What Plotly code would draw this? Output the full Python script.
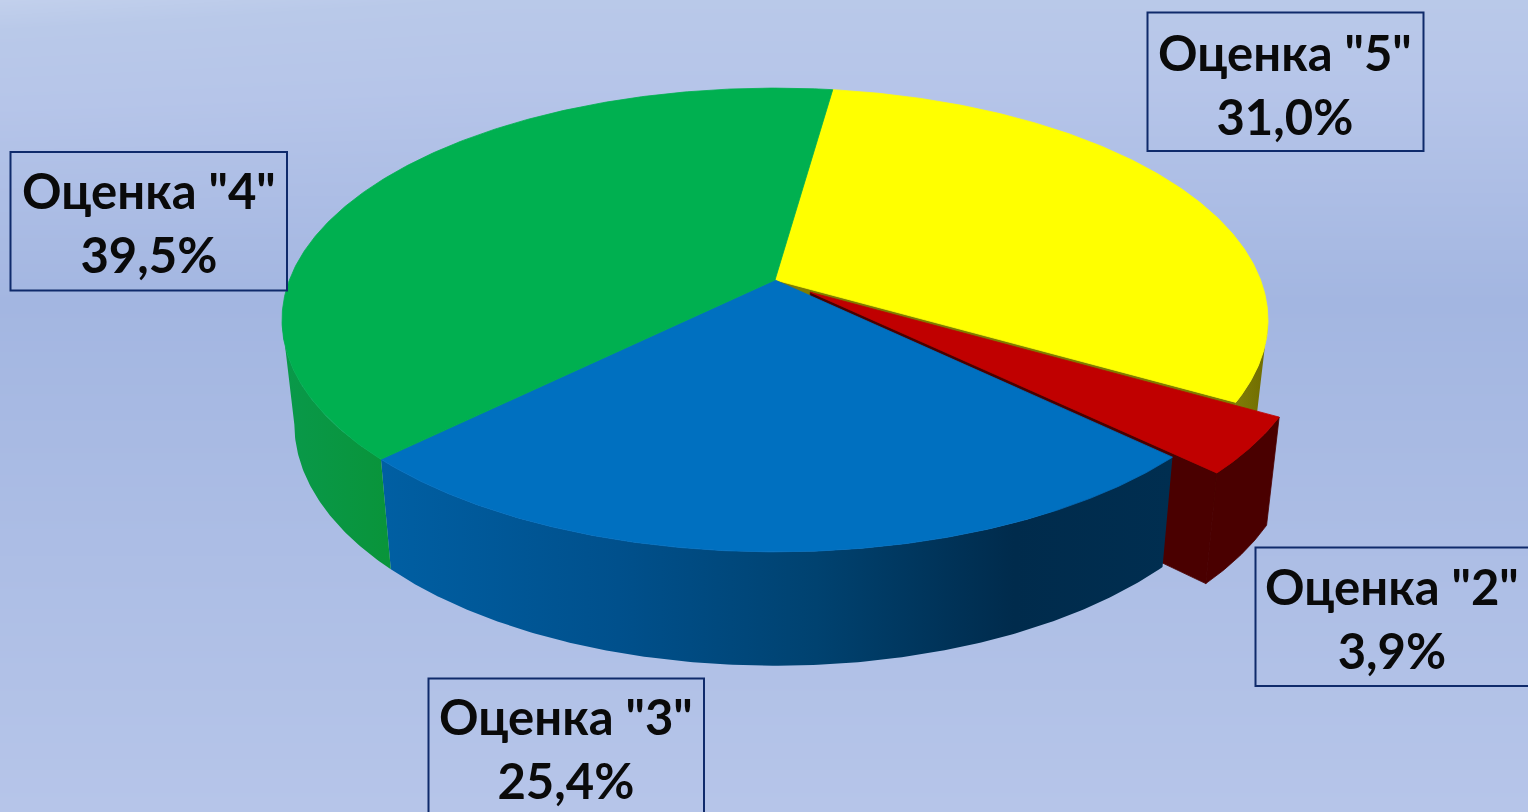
import numpy as np
import plotly.graph_objects as go

# --- data ---
categories = ['Оценка "5"', 'Оценка "2"', 'Оценка "3"', 'Оценка "4"']
values = [31.0, 3.9, 25.4, 39.5]
top_colors = ["#FFFF00", "#C00000", "#0070C0", "#00B050"]
explode = [0, 0.09, 0, 0]
label_centers = [(1285, 84), (1392, 618), (566, 748), (149, 222)]
label_boxes = [(1147.5, 12.5, 1423.5, 151), (1255.5, 547.5, 1545, 686), (428.5, 678.5, 704, 830), (10.5, 152, 287, 290.5)]
wall_colors = [
    [[0, "#85820a"], [1, "#6f6c00"]],
    "#4a0000",
    [[0, "#005fa3"], [0.3, "#00508c"], [0.55, "#004270"], [0.8, "#002b4c"], [1, "#002e50"]],
    [[0, "#09994a"], [1, "#09943a"]],
]
cut_colors = ["#7f7d00", "#4a0000", None, None]
# angular span of the visible outer wall of each slice
wall_spans = [(100, None), (None, None), (None, None), (None, 260)]

# --- projection of the pie plane to the canvas ---
CX, CY, A, B, K = 775.0, 280.0, 485.6, 225.0, 0.1724
START_DEG = 8.0


def project(u, v):
    d = 1 + K * v
    return CX + A * u / d, CY - B * v / d


def lower(x, y):
    return CX + 0.975 * (x - CX), y + 102.5 + 0.042 * (y - CY)


def arc(a1, a2, ox=0.0, oy=0.0):
    t = np.radians(np.linspace(a1, a2, max(int(abs(a2 - a1) * 2), 2)))
    return project(np.sin(t) + ox, np.cos(t) + oy)


def poly(x, y, seam=None, **kw):
    line = dict(width=0.8, color=seam) if seam else dict(width=0)
    return go.Scatter(x=np.round(x, 2).tolist(), y=np.round(y, 2).tolist(), mode="lines", fill="toself",
                      line=line, hoverinfo="skip", showlegend=False, **kw)


# --- background ---
bg_y = np.linspace(0, 812, 60)
bg_x = np.linspace(0, 1528, 40)
vert = np.interp(bg_y, [0, 300, 812], [1.0, 0.0, 0.72])
horiz = np.interp(bg_x, [0, 500, 1528], [0.12, 0.0, 0.0])
bg_z = np.array([[v + h * max(0, 1 - y / 250) for h in horiz] for v, y in zip(vert, bg_y)])
bg = go.Heatmap(x=bg_x, y=bg_y, z=bg_z, zmin=0, zmax=1.12, zsmooth="best", showscale=False, hoverinfo="skip",
                colorscale=[[0, "#A3B6E1"], [0.64, "#B6C5E9"], [0.9, "#B9C9E9"], [1, "#C2D0EC"]])

fig = go.Figure(bg)

# --- slice geometry from values (shares of the printed total) ---
deg_per_unit = 360.0 / sum(values)
starts = START_DEG + deg_per_unit * np.concatenate([[0], np.cumsum(values)[:-1]])
ends = START_DEG + deg_per_unit * np.cumsum(values)
slices = []
for s, e, ex in zip(starts, ends, explode):
    mid = np.radians((s + e) / 2)
    slices.append((s, e, ex * np.sin(mid), ex * np.cos(mid)))

tops, walls, cuts = [], [], []
for i, (s, e, ox, oy) in enumerate(slices):
    ax, ay = arc(s, e, ox, oy)
    px, py = project(ox, oy)
    tops.append(poly(np.r_[px, ax, px], np.r_[py, ay, py], seam=top_colors[i], fillcolor=top_colors[i]))

    lo = wall_spans[i][0] if wall_spans[i][0] is not None else s
    hi = wall_spans[i][1] if wall_spans[i][1] is not None else e
    wx, wy = arc(lo, hi, ox, oy)
    lx, ly = lower(wx, wy)
    wall_x, wall_y = np.r_[wx, lx[::-1], wx[0]], np.r_[wy, ly[::-1], wy[0]]
    if isinstance(wall_colors[i], str):
        walls.append(poly(wall_x, wall_y, seam=wall_colors[i], fillcolor=wall_colors[i]))
    else:
        walls.append(poly(wall_x, wall_y, fillgradient=dict(type="horizontal", colorscale=wall_colors[i])))

    # flat cut face on the clockwise side of the slice
    cuts_i = []
    if cut_colors[i]:
        ex_, ey_ = project(np.sin(np.radians(e)) + ox, np.cos(np.radians(e)) + oy)
        lpx, lpy = lower(px, py)
        lex, ley = lower(ex_, ey_)
        cuts_i.append(poly([px, ex_, lex, lpx, px], [py, ey_, ley, lpy, py], seam=cut_colors[i],
                           fillcolor=cut_colors[i]))
    cuts.append(cuts_i)

# painter's order: yellow, red, blue, green
for i in range(4):
    for c in cuts[i]:
        fig.add_trace(c)
    fig.add_trace(walls[i])
    fig.add_trace(tops[i])

# --- labels ---
shapes = []
annotations = []
for cat, val, (cx, cy), (x0, y0, x1, y1) in zip(categories, values, label_centers, label_boxes):
    shapes.append(dict(type="rect", xref="x", yref="y", x0=x0, y0=y0, x1=x1, y1=y1,
                       line=dict(color="#0F2A6B", width=2), fillcolor="rgba(0,0,0,0)", layer="above"))
    annotations.append(dict(x=cx, y=cy, xref="x", yref="y", showarrow=False, align="center",
                            xanchor="center", yanchor="middle",
                            text=f"<b>{cat}<br>{f'{val:.1f}'.replace('.', ',')}%</b>",
                            font=dict(family="Lato, Open Sans, sans-serif", size=49, color="#0A0A0A")))

fig.update_layout(
    width=1528, height=812, margin=dict(l=0, r=0, t=0, b=0), autosize=False,
    paper_bgcolor="#B0C0E6", plot_bgcolor="#B0C0E6", showlegend=False,
    xaxis=dict(range=[0, 1528], visible=False, fixedrange=True),
    yaxis=dict(range=[812, 0], visible=False, fixedrange=True),
    shapes=shapes, annotations=annotations,
)
fig.write_html("out.html", config=dict(displayModeBar=False),
               post_script="document.body.style.margin='0';document.documentElement.style.overflow='hidden';")
